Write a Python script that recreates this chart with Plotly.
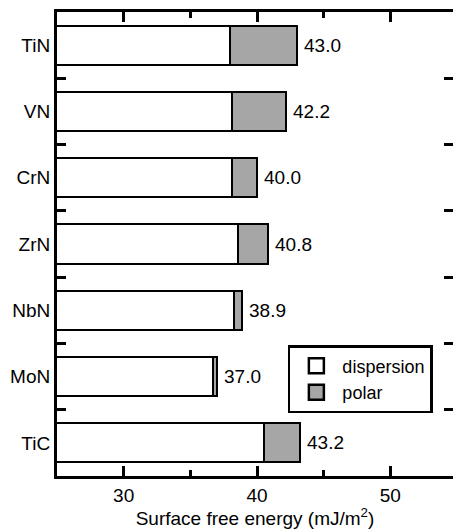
import plotly.graph_objects as go

# Data
categories = ["TiN", "VN", "CrN", "ZrN", "NbN", "MoN", "TiC"]
dispersion = [38.0, 38.1, 38.1, 38.6, 38.3, 36.7, 40.5]
total = [43.0, 42.2, 40.0, 40.8, 38.9, 37.0, 43.2]
polar = [round(t - d, 2) for t, d in zip(total, dispersion)]
total_labels = [f"{t:.1f}" for t in total]
x_ticks = [30, 40, 50]

FONT = "Liberation Sans, Arial, Helvetica, sans-serif"
GRAY = "#a6a6a6"
FS = 19

fig = go.Figure()
fig.add_trace(go.Bar(
    y=categories, x=dispersion, orientation="h", name="dispersion",
    marker=dict(color="white", line=dict(color="black", width=2)),
    width=0.59, showlegend=False,
))
fig.add_trace(go.Bar(
    y=categories, x=polar, orientation="h", name="polar",
    marker=dict(color=GRAY, line=dict(color="black", width=2)),
    width=0.59, showlegend=False,
))
# legend entries (square markers) on the right-side overlay axis
fig.add_trace(go.Scatter(
    x=[None], y=[None], mode="markers", name="dispersion", yaxis="y2",
    marker=dict(symbol="square", size=15, color="white", line=dict(color="black", width=2.5)),
))
fig.add_trace(go.Scatter(
    x=[None], y=[None], mode="markers", name="polar", yaxis="y2",
    marker=dict(symbol="square", size=15, color=GRAY, line=dict(color="black", width=2.5)),
))

for cat, t, lab in zip(categories, total, total_labels):
    fig.add_annotation(
        x=t, y=cat, text=lab, showarrow=False, xanchor="left", yanchor="middle",
        xshift=5, font=dict(family=FONT, size=FS, color="black"),
    )

fig.update_layout(
    width=453, height=529,
    margin=dict(l=57, r=0, t=12, b=53),
    paper_bgcolor="white", plot_bgcolor="white",
    barmode="stack",
    font=dict(family=FONT, size=FS, color="black"),
    xaxis=dict(
        range=[25, 54.7], tickvals=x_ticks, ticks="inside", ticklen=10, tickwidth=2.5,
        tickcolor="black", showline=True, linewidth=3, linecolor="black",
        mirror="ticks", showgrid=False, zeroline=False,
        minor=dict(tickvals=[35, 45], ticks="inside", ticklen=6, tickwidth=2.5, tickcolor="black"),
        tickfont=dict(size=FS),
        title=dict(text="Surface free energy (mJ/m<sup>2</sup>)", font=dict(size=FS), standoff=2),
    ),
    yaxis=dict(
        type="category", categoryorder="array", categoryarray=categories,
        autorange="reversed", tickson="boundaries", ticks="inside", ticklen=9,
        tickwidth=3, tickcolor="black", showline=True, linewidth=3, linecolor="black",
        showgrid=False, zeroline=False, tickfont=dict(size=FS),
    ),
    yaxis2=dict(
        overlaying="y", side="right", range=[6.5, -0.5],
        tickvals=[0.5, 1.5, 2.5, 3.5, 4.5, 5.5], ticks="inside", ticklen=9,
        tickwidth=3, tickcolor="black", showticklabels=False, showline=False,
        showgrid=False, zeroline=False,
    ),
    legend=dict(
        x=0.583, y=0.282, xanchor="left", yanchor="top",
        bordercolor="black", borderwidth=2.5, bgcolor="white",
        font=dict(size=18), itemwidth=42, tracegroupgap=0, traceorder="normal",
    ),
)

fig.write_html("out.html")
